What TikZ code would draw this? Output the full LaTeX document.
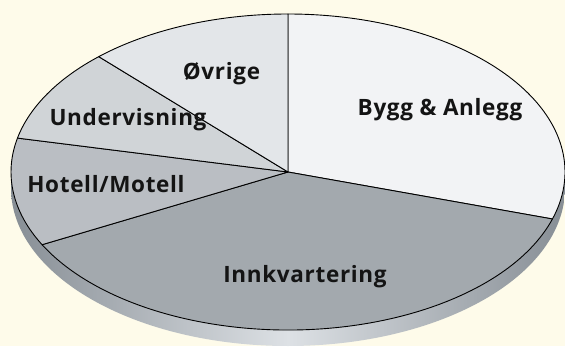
\documentclass[tikz,border=0pt]{standalone}
\usepackage{fontspec}
\setmainfont{Open Sans}
\usetikzlibrary{calc}
\definecolor{bg}{HTML}{FEFBEA}
\definecolor{cBygg}{HTML}{F2F3F5}
\definecolor{cOvr}{HTML}{E3E6E9}
\definecolor{cUnd}{HTML}{D0D4D7}
\definecolor{cHot}{HTML}{BABEC3}
\definecolor{cInn}{HTML}{A3A9AE}
\definecolor{sideDark}{HTML}{878E95}
\definecolor{sideLight}{HTML}{DDE1E5}
\tikzset{
  slice/.style={draw=black, line width=0.9pt, line join=round},
  lbl/.style={font=\bfseries\fontsize{22.5}{24}\selectfont\addfontfeatures{LetterSpace=3}, text=black!92, inner sep=0pt, anchor=base}
}
\begin{document}
\begin{tikzpicture}
\fill[bg] (0pt,0pt) rectangle (565pt,346pt);
\useasboundingbox (0pt,0pt) rectangle (565pt,346pt);
\coordinate (C) at (288pt,174pt);
% side
\shade[left color=sideDark, right color=sideDark, middle color=sideLight]
  ($(C)+(-277pt,0pt)$) -- ($(C)+(-277pt,-16pt)$)
  arc[start angle=180, end angle=360, x radius=277pt, y radius=158pt]
  -- ($(C)+(277pt,0pt)$)
  arc[start angle=360, end angle=180, x radius=277pt, y radius=158pt] -- cycle;
% slices
\filldraw[slice, fill=cBygg] (C) -- ++(90:277pt and 158pt)
  arc[start angle=90, end angle=-17.3, x radius=277pt, y radius=158pt] -- cycle;
\filldraw[slice, fill=cInn] (C) -- ++(-17.3:277pt and 158pt)
  arc[start angle=-17.3, end angle=-152.6, x radius=277pt, y radius=158pt] -- cycle;
\filldraw[slice, fill=cHot] (C) -- ++(207.4:277pt and 158pt)
  arc[start angle=207.4, end angle=167.6, x radius=277pt, y radius=158pt] -- cycle;
\filldraw[slice, fill=cUnd] (C) -- ++(167.6:277pt and 158pt)
  arc[start angle=167.6, end angle=133.1, x radius=277pt, y radius=158pt] -- cycle;
\filldraw[slice, fill=cOvr] (C) -- ++(133.1:277pt and 158pt)
  arc[start angle=133.1, end angle=90, x radius=277pt, y radius=158pt] -- cycle;
% labels
\node[lbl] (ovr) at (221.5pt,266pt) {Øvrige};
\node[lbl] (bygg) at (440pt,230pt) {Bygg \& Anlegg};
\node[lbl] (und) at (128pt,220pt) {Undervisning};
\node[lbl] (hot) at (106pt,154pt) {Hotell/Motell};
\node[lbl] (inn) at (305pt,64pt) {Innkvartering};
\end{tikzpicture}
\end{document}
